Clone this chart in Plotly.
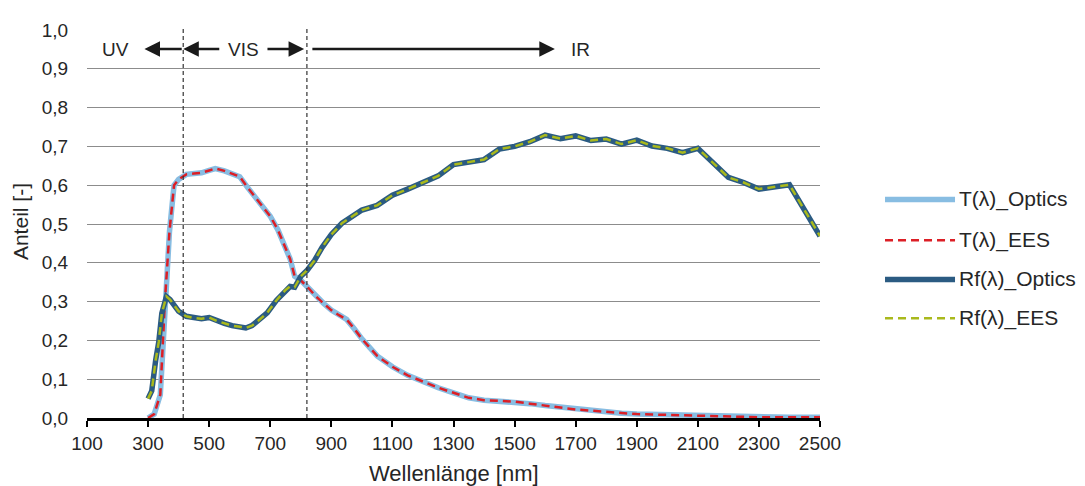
import plotly.graph_objects as go

# ---------------- data ----------------
wl_T = [300, 320, 340, 355, 370, 385, 400, 425, 450, 475, 500, 520, 550, 575, 600,
        625, 650, 675, 700, 725, 750, 765, 780, 800, 825, 850, 875, 900, 925, 950,
        975, 1000, 1050, 1100, 1150, 1200, 1250, 1300, 1350, 1400, 1450, 1500, 1550,
        1600, 1650, 1700, 1750, 1800, 1850, 1900, 1950, 2000, 2050, 2100, 2200, 2300,
        2400, 2500]
T_optics = [0.0, 0.01, 0.06, 0.30, 0.48, 0.60, 0.615, 0.628, 0.630, 0.632, 0.638, 0.643,
            0.637, 0.630, 0.622, 0.595, 0.570, 0.548, 0.520, 0.485, 0.440, 0.410, 0.365,
            0.355, 0.335, 0.313, 0.295, 0.278, 0.265, 0.254, 0.230, 0.204, 0.160, 0.132,
            0.110, 0.093, 0.078, 0.065, 0.052, 0.046, 0.044, 0.042, 0.037, 0.032, 0.028,
            0.022, 0.019, 0.016, 0.012, 0.010, 0.009, 0.008, 0.007, 0.005, 0.003, 0.002,
            0.002, 0.002]
T_ees = list(T_optics)

wl_R = [300, 312, 325, 335, 345, 360, 372, 385, 400, 425, 450, 475, 500, 525, 550, 575,
        600, 620, 640, 660, 690, 720, 750, 765, 780, 800, 820, 845, 870, 900, 935, 1000,
        1050, 1100, 1150, 1200, 1250, 1300, 1350, 1400, 1450, 1500, 1550, 1600, 1650,
        1700, 1750, 1800, 1850, 1900, 1950, 2000, 2050, 2100, 2200, 2250, 2300, 2400, 2500]
Rf_optics = [0.050, 0.070, 0.150, 0.196, 0.270, 0.313, 0.305, 0.290, 0.275, 0.262, 0.258,
             0.256, 0.259, 0.250, 0.244, 0.238, 0.235, 0.232, 0.238, 0.250, 0.271, 0.303,
             0.330, 0.339, 0.337, 0.365, 0.380, 0.406, 0.440, 0.473, 0.502, 0.536, 0.548,
             0.574, 0.590, 0.607, 0.624, 0.653, 0.660, 0.666, 0.693, 0.700, 0.712, 0.729,
             0.720, 0.727, 0.715, 0.719, 0.706, 0.716, 0.701, 0.695, 0.684, 0.695, 0.620,
             0.607, 0.590, 0.601, 0.469]
Rf_ees = list(Rf_optics)

series_names = ["T(λ)_Optics", "T(λ)_EES", "Rf(λ)_Optics", "Rf(λ)_EES"]
region_bounds = [415, 820]
region_labels = ["UV", "VIS", "IR"]
x_ticks = list(range(100, 2501, 200))
y_ticks = [i / 10 for i in range(11)]

# ---------------- styles ----------------
C_T_OPT = "#88bde2"
C_T_EES = "#dc1f26"
C_R_OPT = "#2b5b82"
C_R_EES = "#a9b91c"
FONT = "Liberation Sans, Arial, sans-serif"
TXT = "#262626"

fig = go.Figure()
fig.add_trace(go.Scatter(x=wl_T, y=T_optics, mode="lines", name=series_names[0],
                         line=dict(color=C_T_OPT, width=5.5), showlegend=False))
fig.add_trace(go.Scatter(x=wl_T, y=T_ees, mode="lines", name=series_names[1],
                         line=dict(color=C_T_EES, width=2.5, dash="8px,5px"), showlegend=False))
fig.add_trace(go.Scatter(x=wl_R, y=Rf_optics, mode="lines", name=series_names[2],
                         line=dict(color=C_R_OPT, width=5.5), showlegend=False))
fig.add_trace(go.Scatter(x=wl_R, y=Rf_ees, mode="lines", name=series_names[3],
                         line=dict(color=C_R_EES, width=2.5, dash="8px,5px"), showlegend=False))

# vertical region boundaries
for xb in region_bounds:
    fig.add_shape(type="line", xref="x", yref="paper", x0=xb, x1=xb, y0=0, y1=1.01,
                  line=dict(color="#333333", width=1.2, dash="4px,3px"), layer="above")

# region arrows
y_arr = 0.951
arrows = [  # (tip, tail)
    (288, region_bounds[0]),
    (region_bounds[0], 538),
    (811, 686),
    (1632, 833),
]
for tip, tail in arrows:
    fig.add_annotation(x=tip, y=y_arr, ax=tail, ay=y_arr, xref="x", yref="y",
                       axref="x", ayref="y", text="", showarrow=True,
                       arrowhead=2, arrowsize=1.3, arrowwidth=2.4, arrowcolor="#1a1a1a",
                       standoff=0, startstandoff=0)
for txt, xpos in zip(region_labels, [193, 612, 1715]):
    fig.add_annotation(x=xpos, y=y_arr, xref="x", yref="y", text=txt, showarrow=False,
                       font=dict(family=FONT, size=19, color=TXT), xanchor="center", yanchor="middle")

# custom legend
leg_y = [0.5632, 0.4584, 0.357, 0.2572]
leg_styles = [(C_T_OPT, 5.5, "solid"), (C_T_EES, 2.5, "8px,5px"),
              (C_R_OPT, 5.5, "solid"), (C_R_EES, 2.5, "8px,5px")]
for name, yy, (col, w, d) in zip(series_names, leg_y, leg_styles):
    fig.add_shape(type="line", xref="paper", yref="paper", x0=1.0887, x1=1.1842, y0=yy, y1=yy,
                  line=dict(color=col, width=w, dash=d))
    fig.add_annotation(x=1.187, y=yy, xref="paper", yref="paper", text=name, showarrow=False,
                       xanchor="left", yanchor="middle", font=dict(family=FONT, size=21, color=TXT))

# axis titles
fig.add_annotation(x=-0.0914, y=0.505, xref="paper", yref="paper", text="Anteil [-]",
                   textangle=-90, showarrow=False, font=dict(family=FONT, size=21, color=TXT),
                   xanchor="center", yanchor="middle")
fig.add_annotation(x=0.5, y=-0.143, xref="paper", yref="paper", text="Wellenlänge [nm]",
                   showarrow=False, font=dict(family=FONT, size=22, color=TXT),
                   xanchor="center", yanchor="middle")

# page body has an 8px margin: shrink figure and shift plot area accordingly
fig.update_layout(
    width=1077, height=478,
    margin=dict(l=79, r=265, t=13, b=68),
    paper_bgcolor="white", plot_bgcolor="white",
    separators=",.",
    font=dict(family=FONT, size=19, color=TXT),
    showlegend=False,
)
fig.update_xaxes(range=[100, 2500], tickvals=x_ticks, ticktext=[str(v) for v in x_ticks],
                 showgrid=False, showline=True, linecolor="black", linewidth=2.5,
                 ticks="outside", ticklen=6, tickwidth=2, tickcolor="black",
                 tickfont=dict(family=FONT, size=19, color=TXT), zeroline=False)
fig.update_yaxes(range=[0, 1.0], tickvals=y_ticks, tickformat=".1f",
                 showgrid=True, gridcolor="#8c8c8c", gridwidth=1.4, showline=False,
                 ticks="outside", ticklen=14, tickcolor="rgba(0,0,0,0)",
                 tickfont=dict(family=FONT, size=19, color=TXT), zeroline=False)

fig.write_html("out.html")
